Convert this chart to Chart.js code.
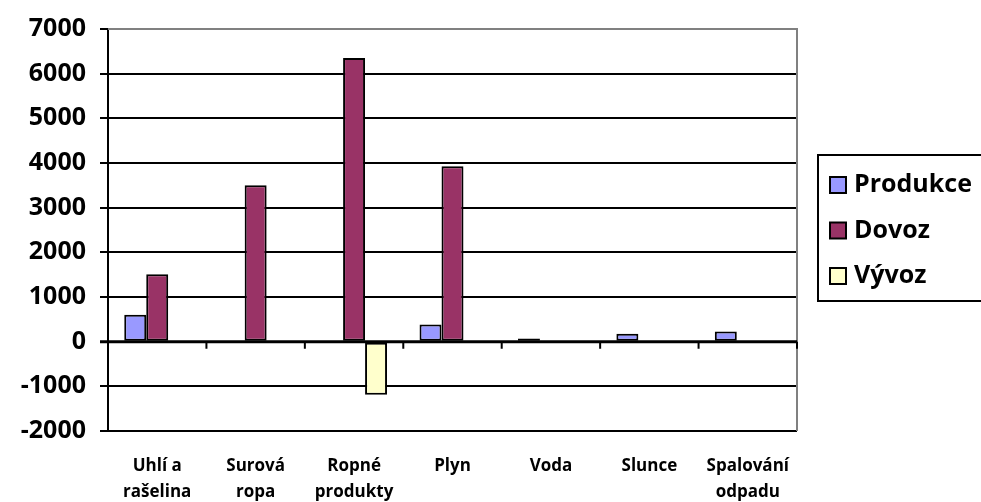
<!DOCTYPE html>
<html>
<head>
<meta charset="utf-8">
<script src="https://cdn.jsdelivr.net/npm/chart.js@4"></script>
<style>
  html, body { margin: 0; padding: 0; background: #fff; }
  #wrap { width: 981px; height: 502px; }
</style>
</head>
<body>
<div id="wrap"><canvas id="ch_energy" width="981" height="502"></canvas></div>
<script>
/* Energy balance by source — Produkce / Dovoz / Vývoz */

const categories = [['Uhlí a', 'rašelina'], ['Surová', 'ropa'], ['Ropné', 'produkty'], 'Plyn', 'Voda', 'Slunce', ['Spalování', 'odpadu']];
const produkce = [600, 0, 0, 385, 70, 180, 230];
const dovoz    = [1510, 3500, 6350, 3930, 0, 0, 0];
const vyvoz    = [-30, 0, -1190, 0, 0, 0, 0];
const seriesNames  = ['Produkce', 'Dovoz', 'Vývoz'];
const seriesColors = ['#9999FF', '#993366', '#FFFFCC'];

const FONT = '"Open Sans", Lato, sans-serif';

// plot frame, zero-line ticks and boxed legend
const framePlugin = {
  id: 'frame',
  afterDraw(chart) {
    const { ctx, chartArea: a, scales } = chart;
    ctx.save();
    // top/right border in gray
    ctx.strokeStyle = '#808080';
    ctx.lineWidth = 2;
    ctx.beginPath();
    ctx.moveTo(a.left, a.top); ctx.lineTo(a.right, a.top); ctx.lineTo(a.right, a.bottom);
    ctx.stroke();

    // tick marks below the zero line at category boundaries
    const y0 = scales.y.getPixelForValue(0);
    const step = (a.right - a.left) / categories.length;
    ctx.strokeStyle = '#000';
    ctx.lineWidth = 2;
    ctx.beginPath();
    for (let i = 1; i <= categories.length; i++) {
      const x = a.left + i * step;
      ctx.moveTo(x, y0); ctx.lineTo(x, y0 + 7);
    }
    ctx.stroke();
    ctx.lineWidth = 3;
    ctx.beginPath();
    ctx.moveTo(a.left - 8, y0); ctx.lineTo(a.right, y0);
    ctx.stroke();

    // legend
    const lx = a.right + 21, ly = 155;
    ctx.lineWidth = 2;
    ctx.strokeStyle = '#000';
    ctx.strokeRect(lx, ly, 200, 146);
    ctx.font = 'bold 25px ' + FONT;
    ctx.textBaseline = 'middle';
    ctx.textAlign = 'left';
    seriesNames.forEach((name, i) => {
      const cy = ly + 30 + i * 45.5;
      ctx.fillStyle = seriesColors[i];
      ctx.fillRect(lx + 12, cy - 8, 16, 16);
      ctx.lineWidth = 2;
      ctx.strokeRect(lx + 12, cy - 8, 16, 16);
      ctx.fillStyle = '#000';
      ctx.fillText(name, lx + 36, cy);
    });
    ctx.restore();
  }
};

const canvas = document.getElementById('ch_energy');
new Chart(canvas.getContext('2d'), {
  type: 'bar',
  data: {
    labels: categories,
    datasets: [produkce, dovoz, vyvoz].map((d, i) => ({
      label: seriesNames[i],
      data: d,
      backgroundColor: seriesColors[i],
      borderColor: '#000',
      borderWidth: 2,
      borderSkipped: false,
      categoryPercentage: 0.67,
      barPercentage: 1
    }))
  },
  options: {
    responsive: false,
    animation: false,
    layout: { padding: { top: 25, right: 184, left: 0, bottom: 0 } },
    plugins: {
      legend: { display: false },
      tooltip: { enabled: false }
    },
    scales: {
      x: {
        grid: { display: false },
        border: { display: false },
        afterFit: s => { s.height = 71; },
        ticks: {
          color: '#000',
          font: { family: FONT, size: 17, weight: 'bold', lineHeight: 1.55 },
          padding: 14,
          maxRotation: 0,
          autoSkip: false
        }
      },
      y: {
        min: -2000,
        max: 7000,
        afterFit: s => { s.width = 108; },
        ticks: {
          stepSize: 1000,
          color: '#000',
          font: { family: FONT, size: 25, weight: 'bold' },
          padding: 14,
          callback: v => String(v)
        },
        grid: {
          color: c => c.tick && c.tick.value === 7000 ? '#808080' : '#000',
          tickColor: '#000',
          lineWidth: 2,
          tickLength: 8
        },
        border: { display: true, color: '#000', width: 2 }
      }
    }
  },
  plugins: [framePlugin]
});
</script>
</body>
</html>
